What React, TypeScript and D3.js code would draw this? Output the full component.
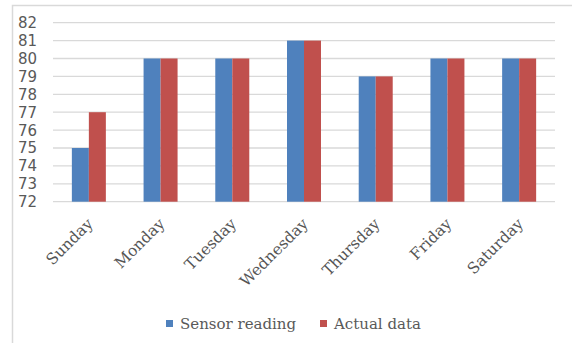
import React from "react";
import * as d3 from "d3";

const days = ["Sunday", "Monday", "Tuesday", "Wednesday", "Thursday", "Friday", "Saturday"];
const sensorReading = [75, 80, 80, 81, 79, 80, 80];
const actualData = [77, 80, 80, 81, 79, 80, 80];
const seriesNames = ["Sensor reading", "Actual data"];
const yTicks = [72, 73, 74, 75, 76, 77, 78, 79, 80, 81, 82];

const colors = ["#4F81BD", "#C0504D"];

export default function App() {
  const W = 572, H = 343;
  const left = 53, right = 555, top = 22.7, bottom = 201.7;
  const x = d3.scaleBand<string>().domain(days).range([left, right]).paddingInner(0).paddingOuter(0);
  const y = d3.scaleLinear().domain([72, 82]).range([bottom, top]);
  const groupW = 34;
  const sub = d3.scaleBand<string>().domain(seriesNames).range([0, groupW]);
  const series = [sensorReading, actualData];

  return (
    <svg width={W} height={H} style={{ position: "absolute", left: 0, top: 0, background: "#fff" }}>
      <rect x={12.5} y={5.5} width={620} height={400} fill="#fff" stroke="#D9D9D9" strokeWidth={1.5} />
      {yTicks.map((t) => (
        <g key={t}>
          <line x1={left} x2={right} y1={y(t)} y2={y(t)} stroke="#D9D9D9" strokeWidth={1.3} />
          <text x={37} y={y(t)} dy="0.36em" textAnchor="end" fontFamily="DejaVu Sans" fontSize={15} fill="#595959">
            {t}
          </text>
        </g>
      ))}
      {days.map((d, i) => {
        const cx = (x(d) as number) + x.bandwidth() / 2;
        return (
          <g key={d}>
            {series.map((s, j) => (
              <rect
                key={j}
                x={cx - groupW / 2 + (sub(seriesNames[j]) as number)}
                y={y(s[i])}
                width={sub.bandwidth()}
                height={y(72) - y(s[i])}
                fill={colors[j]}
              />
            ))}
            <text
              transform={`translate(${cx + 5},${bottom + 23}) rotate(-45)`}
              textAnchor="end"
              fontFamily="DejaVu Serif"
              fontSize={15.5}
              fill="#555"
            >
              {d}
            </text>
          </g>
        );
      })}
      {seriesNames.map((n, j) => {
        const lx = [166, 320][j];
        return (
          <g key={n}>
            <rect x={lx} y={320} width={7} height={7} fill={colors[j]} />
            <text x={lx + 14} y={329} fontFamily="DejaVu Serif" fontSize={15} fill="#595959">
              {n}
            </text>
          </g>
        );
      })}
    </svg>
  );
}
